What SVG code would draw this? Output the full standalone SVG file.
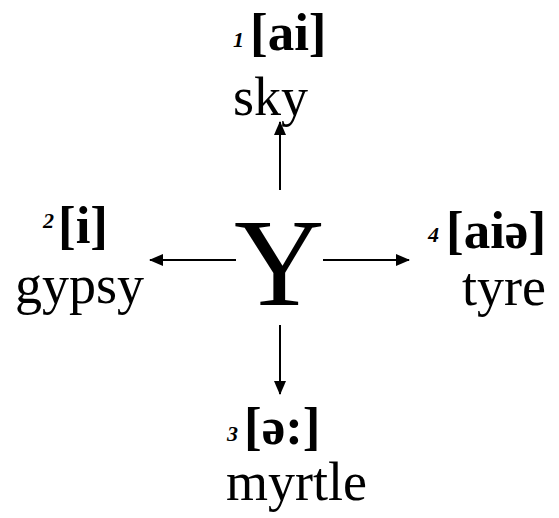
<svg xmlns="http://www.w3.org/2000/svg" width="559" height="518" viewBox="0 0 559 518">
<style>
text{font-family:"Liberation Serif","Times New Roman",serif;fill:#000}
.ipa{font-size:53px;font-weight:bold}
.num{font-size:22px;font-weight:bold;font-style:italic}
.word{font-size:54px}
.big{font-size:125px}
.conn line{stroke:#000;stroke-width:2;marker-end:url(#ah)}
</style>
<defs>
<marker id="ah" markerWidth="14" markerHeight="12" refX="13" refY="6" orient="auto" markerUnits="userSpaceOnUse">
<path d="M0,0 L14,6 L0,12 Z" fill="#000"/>
</marker>
</defs>
<g id="center"><text class="big" x="234" y="305">Y</text></g>
<g id="n1"><text class="num" x="233" y="47">1</text><text class="ipa" x="250" y="50">[ai]</text><text class="word" x="233" y="115">sky</text></g>
<g id="n2"><text class="num" x="43" y="228">2</text><text class="ipa" x="58" y="243">[i]</text><text class="word" x="15" y="303">gypsy</text></g>
<g id="n3"><text class="num" x="227" y="441">3</text><text class="ipa" x="244" y="444">[ə:]</text><text class="word" x="226" y="500">myrtle</text></g>
<g id="n4"><text class="num" x="428" y="242">4</text><text class="ipa" x="446" y="248">[aiə]</text><text class="word" x="462" y="305">tyre</text></g>
<g class="conn" id="connectors">
<line x1="280" y1="190" x2="280" y2="122"/>
<line x1="236" y1="260" x2="150" y2="260"/>
<line x1="323" y1="260" x2="409" y2="260"/>
<line x1="280" y1="325" x2="280" y2="394"/>
</g>
</svg>
